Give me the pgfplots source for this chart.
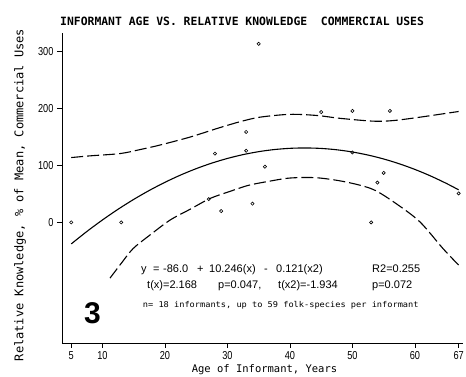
\documentclass[border=0pt]{standalone}
\usepackage{fontspec}
\setmainfont{Liberation Sans}
\newfontfamily\ticksf[FakeStretch=0.8]{Liberation Sans}
\newfontfamily\monof{DejaVu Sans Mono}
\newfontfamily\smallmono[FakeStretch=1.08]{DejaVu Sans Mono}
\usepackage{pgfplots}
\pgfplotsset{compat=1.18}
\begin{document}
\begin{tikzpicture}
\useasboundingbox (0,0) rectangle (466pt,377pt);
\begin{axis}[
  at={(62pt,34pt)}, anchor=south west,
  scale only axis, width=401pt, height=310pt,
  xmin=3.52, xmax=67.7, ymin=-212, ymax=333,
  axis x line*=bottom, axis y line*=left,
  axis line style={line width=0.9pt, black},
  xtick={5,10,20,30,40,50,60,67},
  ytick={0,100,200,300},
  tick align=outside, major tick length=5pt,
  tick style={black, line width=0.6pt},
  /pgf/number format/assume math mode=true,
  ticklabel style={font=\ticksf\fontsize{11.5}{12}\selectfont},
  clip=false,
]
% data points
\addplot[only marks, mark=o, mark size=1.6pt, mark options={line width=0.6pt}] coordinates {
(5,0) (13,0) (27,41) (28,121) (29,20) (33,159) (33,126) (34,33) (36,98)
(35,314) (45,194) (50,196) (50,123) (53,0) (54,70) (55,87) (56,196) (67,51)
};
% fitted quadratic
\addplot[smooth, line width=1.1pt] coordinates {
(5,-37.80) (7.5,-15.96) (10,4.36) (12.5,23.17) (15,40.47) (17.5,56.25) (20,70.52)
(22.5,83.28) (25,94.53) (27.5,104.26) (30,112.48) (32.5,119.19) (35,124.39)
(37.5,128.07) (40,130.24) (42.5,130.90) (45,130.05) (47.5,127.68) (50,123.80)
(52.5,118.41) (55,111.51) (57.5,103.09) (60,93.16) (62.5,81.72) (65,68.77) (67,57.31)
};
% upper band
\addplot[smooth, line width=1.1pt, dash pattern=on 12pt off 4pt] coordinates {
(5,114) (8,117) (12.8,121) (16,128) (19.2,136) (24,150) (28.3,165) (32,177)
(35.2,185) (40,190) (44.3,188) (48,183) (53.3,178) (56.5,179) (60.8,185) (67,195)
};
% lower band
\addplot[smooth, line width=1.1pt, dash pattern=on 12pt off 4pt] coordinates {
(11.2,-98) (13,-72) (14.9,-46) (17.5,-23) (20.8,4) (24,23) (27.2,42) (30,53)
(33.3,65) (36.5,72) (40,78) (44.3,78.5) (49,71) (53.3,58) (57,33) (60.8,1)
(64.5,-46) (67,-75)
};
\end{axis}
% title
\node[anchor=west, inner sep=0, font=\monof\bfseries\fontsize{11.4}{12}\selectfont] at (60pt,356pt)
  {INFORMANT AGE VS. RELATIVE KNOWLEDGE\ \ COMMERCIAL USES};
% y label
\node[anchor=base, rotate=90, inner sep=0, font=\monof\fontsize{12}{13}\selectfont] at (23.3pt,182pt)
  {Relative Knowledge, \% of Mean, Commercial Uses};
% x label
\node[anchor=base, inner sep=0, font=\monof\fontsize{10.5}{11}\selectfont] at (264.5pt,4pt)
  {Age of Informant, Years};
% annotations, line 1
\begin{scope}[every node/.style={anchor=base west, inner sep=0, font=\fontsize{11}{12}\selectfont}]
\node at (141pt,104pt) {y};
\node at (153pt,104pt) {=};
\node at (163pt,104pt) {-86.0};
\node at (197pt,104pt) {+};
\node at (209pt,104pt) {10.246(x)};
\node at (264pt,104pt) {-};
\node at (276pt,104pt) {0.121(x2)};
\node at (372pt,104pt) {R2=0.255};
% line 2
\node at (147pt,88.3pt) {t(x)=2.168};
\node at (218pt,88.3pt) {p=0.047,};
\node at (278pt,88.3pt) {t(x2)=-1.934};
\node at (372pt,88.3pt) {p=0.072};
\end{scope}
\node[anchor=base west, inner sep=0, font=\smallmono\fontsize{8}{9}\selectfont] at (142.7pt,69.5pt)
  {n= 18 informants, up to 59 folk-species per informant};
\node[anchor=base, inner sep=0, font=\bfseries\fontsize{30}{32}\selectfont] at (92.5pt,53.7pt) {3};
\end{tikzpicture}
\end{document}
